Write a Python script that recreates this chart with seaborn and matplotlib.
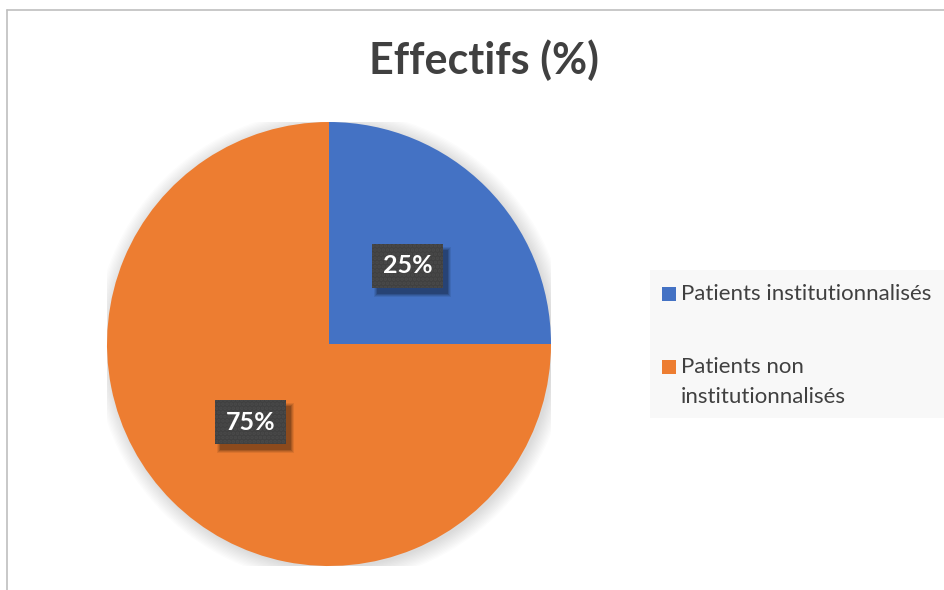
import textwrap
import matplotlib
matplotlib.use('Agg')
import matplotlib.pyplot as plt
from matplotlib.patches import Circle, Rectangle
from matplotlib.lines import Line2D
import seaborn as sns

# data
labels = ["Patients institutionnalisés", "Patients non institutionnalisés"]
values = [25, 75]
colors = ["#4472C4", "#ED7D31"]
title = "Effectifs (%)"

sns.set_theme(style="white")
plt.rcParams['font.family'] = ['Lato', 'DejaVu Sans']
plt.rcParams['hatch.linewidth'] = 1.8

W, H = 945, 590
fig = plt.figure(figsize=(W / 100, H / 100), dpi=100)
fig.patch.set_facecolor('white')

# pie axes: centre (329, 344), radius 222 px
cx, cy, r = 329, 344, 222
ax = fig.add_axes([(cx - r) / W, (H - cy - r) / H, 2 * r / W, 2 * r / H])

# soft glow/shadow around the pie
for i in range(12):
    ax.add_patch(Circle((0.01, -0.01), 1.0 + 0.006 * i, color='#000000',
                        alpha=0.012, lw=0, zorder=0))

palette = sns.color_palette(colors)
wedges, texts, autotexts = ax.pie(
    values, colors=palette, startangle=90, counterclock=False,
    autopct='%1.0f%%', pctdistance=0.5, radius=1.0,
    wedgeprops=dict(linewidth=0), frame=False,
)
ax.set_xlim(-1, 1)
ax.set_ylim(-1, 1)
ax.set_aspect('equal')
ax.axis('off')
for w in wedges:
    w.set_zorder(2)

for t in autotexts:
    t.set_color('white')
    t.set_fontsize(18)
    t.set_fontweight('bold')
    t.set_zorder(5)
    t.set_bbox(dict(boxstyle='square,pad=0.42', facecolor='#404040',
                    edgecolor='#4a4a4a', linewidth=0, hatch='....'))

# drop shadows behind the label boxes (soft, offset down-right)
fig.canvas.draw()
inv = ax.transData.inverted()
for t in autotexts:
    bb = t.get_bbox_patch().get_window_extent()
    for k, a in enumerate([0.08, 0.10, 0.13, 0.16]):
        grow = 3 - k
        x0, y0 = inv.transform((bb.x0 + 5 - grow, bb.y0 - 6 - grow))
        x1, y1 = inv.transform((bb.x1 + 5 + grow, bb.y1 - 6 + grow))
        ax.add_patch(Rectangle((x0, y0), x1 - x0, y1 - y0, facecolor='black',
                               alpha=a, linewidth=0, zorder=4))

# title
fig.text(484 / W, 1 - 60 / H, title, ha='center', va='center',
         fontsize=31, fontweight='bold', color='#404040')

# legend panel
fig.add_artist(Rectangle((650 / W, 1 - 418 / H), (W - 650) / W, 148 / H,
                         transform=fig.transFigure, facecolor='#F8F8F8',
                         edgecolor='none', zorder=0))
entry_y = [294, 367]
line_h = 30
for lab, col, y0 in zip(labels, palette, entry_y):
    fig.add_artist(Rectangle((662 / W, 1 - (y0 + 7) / H), 14 / W, 14 / H,
                             transform=fig.transFigure, facecolor=col,
                             edgecolor='none'))
    for j, line in enumerate(textwrap.wrap(lab, 28)):
        fig.text(681 / W, 1 - (y0 + j * line_h) / H, line, ha='left',
                 va='center', fontsize=16, color='#404040')

# chart area border (left and top visible)
fig.add_artist(Line2D([7 / W, 7 / W], [0, 1 - 10 / H], transform=fig.transFigure,
                      color='#BFBFBF', lw=1.2))
fig.add_artist(Line2D([7 / W, 1], [1 - 10 / H, 1 - 10 / H], transform=fig.transFigure,
                      color='#BFBFBF', lw=1.2))

fig.savefig('out.png', dpi=100)
